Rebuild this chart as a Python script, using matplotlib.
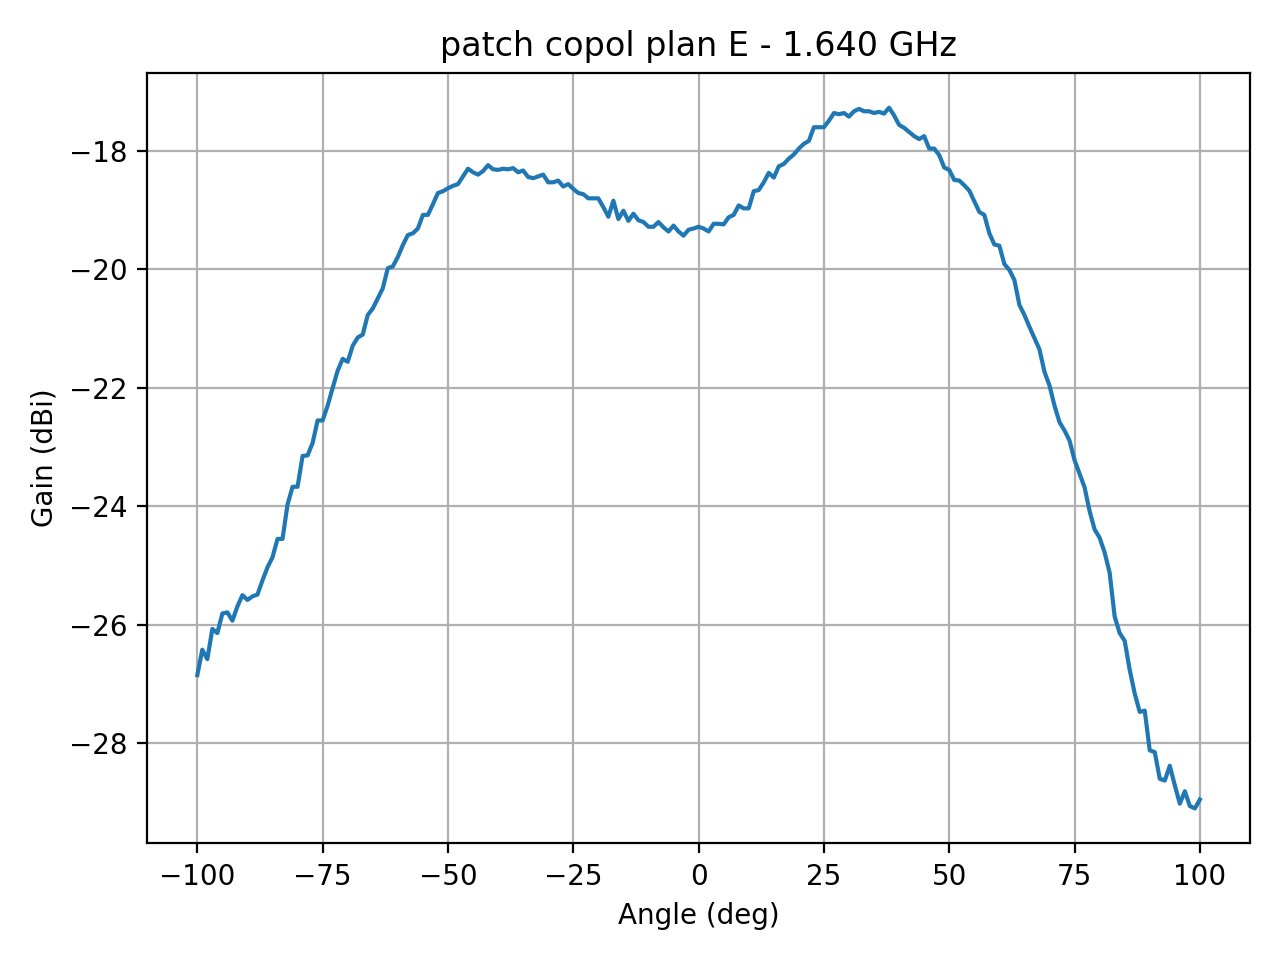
import numpy as np
import matplotlib
matplotlib.use("Agg")
import matplotlib.pyplot as plt

angles = list(range(-100, 101))
gain = [
    -26.85, -26.42, -26.58, -26.07, -26.14, -25.81, -25.79, -25.93, -25.69, -25.50,  # -100..-91
    -25.58, -25.52, -25.49, -25.25, -25.03, -24.86, -24.55, -24.55, -23.97, -23.67,  # -90..-81
    -23.67, -23.15, -23.14, -22.93, -22.55, -22.55, -22.30, -22.00, -21.71, -21.51,  # -80..-71
    -21.56, -21.29, -21.15, -21.10, -20.77, -20.66, -20.49, -20.32, -19.98, -19.95,  # -70..-61
    -19.79, -19.59, -19.42, -19.39, -19.31, -19.08, -19.08, -18.90, -18.71, -18.68,  # -60..-51
    -18.63, -18.59, -18.56, -18.43, -18.30, -18.36, -18.40, -18.34, -18.24, -18.31,  # -50..-41
    -18.32, -18.30, -18.31, -18.29, -18.36, -18.33, -18.44, -18.46, -18.43, -18.40,  # -40..-31
    -18.53, -18.53, -18.50, -18.60, -18.56, -18.64, -18.71, -18.73, -18.80, -18.80,  # -30..-21
    -18.80, -18.95, -19.11, -18.84, -19.15, -19.01, -19.18, -19.06, -19.17, -19.20,  # -20..-11
    -19.28, -19.28, -19.20, -19.29, -19.36, -19.26, -19.36, -19.43, -19.33, -19.31,  # -10..-1
    -19.28,                                                                          # 0
    -19.31, -19.36, -19.23, -19.23, -19.24, -19.12, -19.08, -18.92, -18.97, -18.97,  # 1..10
    -18.68, -18.66, -18.53, -18.37, -18.45, -18.26, -18.22, -18.13, -18.06, -17.96,  # 11..20
    -17.88, -17.83, -17.60, -17.60, -17.60, -17.49, -17.36, -17.38, -17.36, -17.42,  # 21..30
    -17.33, -17.29, -17.33, -17.33, -17.36, -17.34, -17.37, -17.27, -17.40, -17.56,  # 31..40
    -17.61, -17.68, -17.75, -17.80, -17.75, -17.96, -17.96, -18.07, -18.28, -18.32,  # 41..50
    -18.49, -18.50, -18.58, -18.67, -18.85, -19.03, -19.08, -19.39, -19.58, -19.60,  # 51..60
    -19.91, -20.01, -20.18, -20.60, -20.77, -20.97, -21.16, -21.35, -21.73, -21.96,  # 61..70
    -22.30, -22.58, -22.72, -22.89, -23.22, -23.45, -23.68, -24.08, -24.39, -24.53,  # 71..80
    -24.78, -25.12, -25.86, -26.14, -26.27, -26.76, -27.16, -27.47, -27.45, -28.12,  # 81..90
    -28.15, -28.60, -28.63, -28.38, -28.71, -29.02, -28.81, -29.06, -29.10, -28.95,  # 91..100
]

title = "patch copol plan E - 1.640 GHz"
xlabel = "Angle (deg)"
ylabel = "Gain (dBi)"

fig, ax = plt.subplots(figsize=(6.4, 4.8), dpi=200)
ax.plot(angles, gain)
ax.set_title(title)
ax.set_xlabel(xlabel)
ax.set_ylabel(ylabel)
ax.grid(True)
fig.tight_layout()
fig.savefig("out.png", dpi=200)
